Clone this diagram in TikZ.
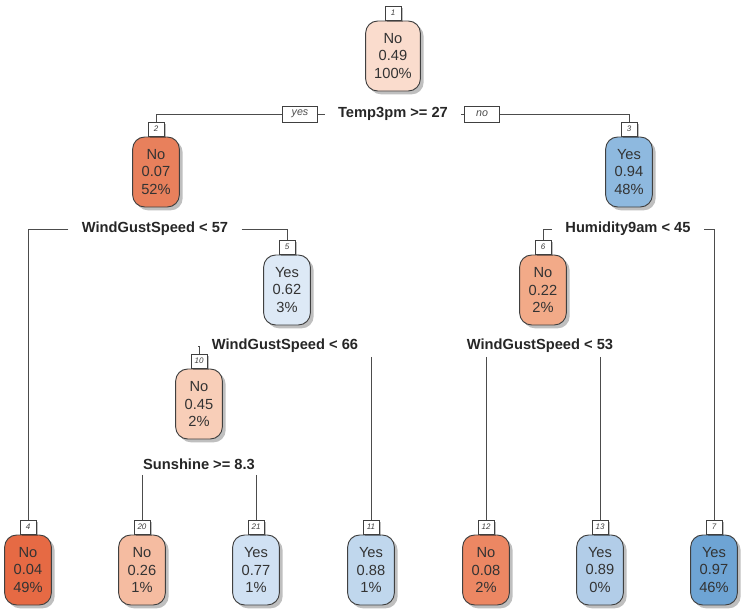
\documentclass[tikz,border=0pt]{standalone}
\usepackage{fontspec}
\setmainfont{Liberation Sans}
\usetikzlibrary{shadows}
\definecolor{c049}{HTML}{FADCCD}
\definecolor{c007}{HTML}{E8805C}
\definecolor{c004}{HTML}{E66A44}
\definecolor{c008}{HTML}{EC8763}
\definecolor{c022}{HTML}{F2AA88}
\definecolor{c026}{HTML}{F5BCA1}
\definecolor{c045}{HTML}{F8CEB8}
\definecolor{c062}{HTML}{DDE9F6}
\definecolor{c077}{HTML}{D0E1F3}
\definecolor{c088}{HTML}{C0D7ED}
\definecolor{c089}{HTML}{B2CDE8}
\definecolor{c094}{HTML}{8EB9DF}
\definecolor{c097}{HTML}{6EA4D4}
\begin{document}
\begin{tikzpicture}[x=0.75pt,y=-0.75pt,
  tnode/.style={draw=black!75, line width=0.7pt, rounded corners=9pt,
    minimum width=35pt, minimum height=52.5pt, align=center,
    font=\fontsize{11}{13}\selectfont, text=black!80, inner sep=1pt,
    drop shadow={shadow xshift=2.5pt, shadow yshift=-2.5pt, fill=black, opacity=0.25}},
  numbox/.style={draw=black!75, fill=white, line width=0.6pt, minimum width=12pt,
    minimum height=10.5pt, inner sep=0.5pt, font=\fontsize{6}{7}\selectfont\itshape,
    text=black!75, anchor=south,
    drop shadow={shadow xshift=1.5pt, shadow yshift=-1.5pt, fill=black, opacity=0.25}},
  split/.style={font=\fontsize{11}{13}\selectfont\bfseries, inner xsep=10pt,
    inner ysep=0pt, minimum height=16pt, text=black!85},
  yn/.style={draw=black!75, fill=white, line width=0.6pt,
    font=\fontsize{8}{9}\selectfont\itshape, minimum width=26pt,
    minimum height=12pt, inner sep=1pt, text=black!70},
  edge/.style={draw=black!70, line width=0.7pt}
]
\useasboundingbox (0,0) rectangle (751,615);

% inner nodes
\node[tnode, fill=c049, minimum width=41pt] (n1) at (393,56) {No\\0.49\\100\%};
\node[tnode, fill=c007] (n2) at (156,172) {No\\0.07\\52\%};
\node[tnode, fill=c094] (n3) at (629,172) {Yes\\0.94\\48\%};
\node[tnode, fill=c062] (n5) at (287,290) {Yes\\0.62\\3\%};
\node[tnode, fill=c022] (n6) at (543,290) {No\\0.22\\2\%};
\node[tnode, fill=c045] (n10) at (199,404) {No\\0.45\\2\%};
% leaves
\node[tnode, fill=c004] (n4) at (28,570) {No\\0.04\\49\%};
\node[tnode, fill=c026] (n20) at (142,570) {No\\0.26\\1\%};
\node[tnode, fill=c077] (n21) at (256,570) {Yes\\0.77\\1\%};
\node[tnode, fill=c088] (n11) at (371,570) {Yes\\0.88\\1\%};
\node[tnode, fill=c008] (n12) at (486,570) {No\\0.08\\2\%};
\node[tnode, fill=c089] (n13) at (600,570) {Yes\\0.89\\0\%};
\node[tnode, fill=c097] (n7) at (714,570) {Yes\\0.97\\46\%};

% number labels
\node[numbox] (l1) at (n1.north) {1};
\node[numbox] (l2) at (n2.north) {2};
\node[numbox] (l3) at (n3.north) {3};
\node[numbox] (l5) at (n5.north) {5};
\node[numbox] (l6) at (n6.north) {6};
\node[numbox] (l10) at (n10.north) {10};
\node[numbox] (l4) at (n4.north) {4};
\node[numbox] (l20) at (n20.north) {20};
\node[numbox] (l21) at (n21.north) {21};
\node[numbox] (l11) at (n11.north) {11};
\node[numbox] (l12) at (n12.north) {12};
\node[numbox] (l13) at (n13.north) {13};
\node[numbox] (l7) at (n7.north) {7};

% split labels
\node[split] (s1) at (393,114) {Temp3pm >= 27};
\node[split] (s2) at (155,229) {WindGustSpeed < 57};
\node[split] (s3) at (628,229) {Humidity9am < 45};
\node[split] (s5) at (285,346) {WindGustSpeed < 66};
\node[split] (s6) at (540,346) {WindGustSpeed < 53};
\node[split] (s10) at (199,464) {Sunshine >= 8.3};

\node[yn] (yes) at (300,114) {yes};
\node[yn] (no) at (482,114) {no};

% connectors
\draw[edge] (l2.north) |- (yes.west);
\draw[edge] (yes.east) -- (s1.west);
\draw[edge] (s1.east) -- (no.west);
\draw[edge] (no.east) -| (l3.north);

\draw[edge] (s2.west) -| (l4.north);
\draw[edge] (s2.east) -| (l5.north);
\draw[edge] (s3.west) -| (l6.north);
\draw[edge] (s3.east) -| (l7.north);

\draw[edge] (s5.west) -| (l10.north);
\draw[edge] (l11.north |- s5.south) -- (l11.north);
\draw[edge] (l12.north |- s6.south) -- (l12.north);
\draw[edge] (l13.north |- s6.south) -- (l13.north);
\draw[edge] (l20.north |- s10.south) -- (l20.north);
\draw[edge] (l21.north |- s10.south) -- (l21.north);
\end{tikzpicture}
\end{document}
